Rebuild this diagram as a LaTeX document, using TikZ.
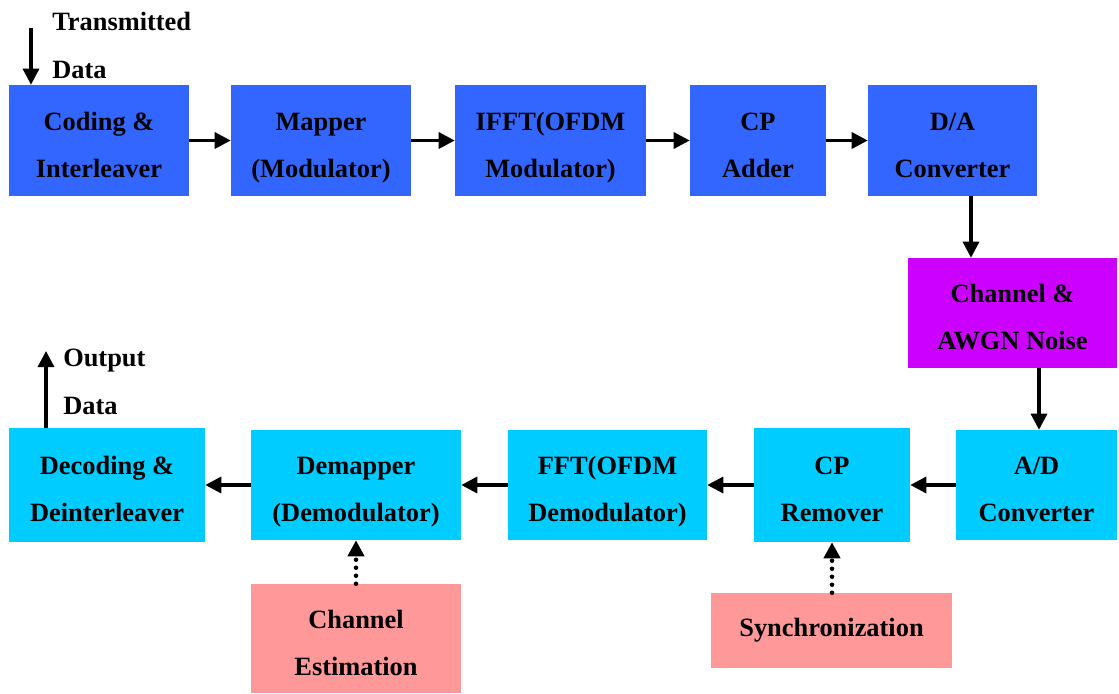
\documentclass[tikz,border=0pt]{standalone}
\usepackage{fontspec}
\setmainfont{Liberation Serif}
\usepackage{tikz}
\usetikzlibrary{arrows.meta,positioning}
\definecolor{txblue}{HTML}{3366FF}
\definecolor{chmag}{HTML}{CC00FF}
\definecolor{rxcyan}{HTML}{00CCFF}
\definecolor{aux}{HTML}{FF9999}
\begin{document}
\begin{tikzpicture}[x=0.75pt,y=-0.75pt,>={Triangle[length=12pt,width=12pt]},
  block/.style={inner sep=0pt,align=center,text height=55pt,text depth=0pt,font=\bfseries\fontsize{19.8}{35.25}\selectfont},
  lab/.style={inner sep=0pt,align=left,anchor=west,font=\bfseries\fontsize{19.8}{36}\selectfont},
  flow/.style={->,line width=2.4pt},
  aid/.style={->,line width=3.4pt,line cap=round,dash pattern=on 0pt off 6pt}]
  \useasboundingbox (0,0) rectangle (1119,693);
  % transmitter
  \node[block,fill=txblue,minimum width=135pt,minimum height=83.25pt] (cod) at (99,140.5) {Coding \&\\Interleaver};
  \node[block,fill=txblue,minimum width=135pt,minimum height=83.25pt] (map) at (321,140.5) {Mapper\\(Modulator)};
  \node[block,fill=txblue,minimum width=143.25pt,minimum height=83.25pt] (ifft) at (550.5,140.5) {IFFT(OFDM\\Modulator)};
  \node[block,fill=txblue,minimum width=102pt,minimum height=83.25pt] (cpa) at (758,140.5) {CP\\Adder};
  \node[block,fill=txblue,minimum width=126.75pt,minimum height=83.25pt] (da) at (952.5,140.5) {D/A\\Converter};
  % channel
  \node[block,fill=chmag,minimum width=156.75pt,minimum height=82.5pt] (chan) at (1012.5,313) {Channel \&\\AWGN Noise};
  % receiver
  \node[block,fill=rxcyan,minimum width=120.75pt,minimum height=82.5pt] (ad) at (1036.5,485) {A/D\\Converter};
  \node[block,fill=rxcyan,minimum width=117pt,minimum height=85.5pt] (cpr) at (832,485) {CP\\Remover};
  \node[block,fill=rxcyan,minimum width=149.25pt,minimum height=82.5pt] (fft) at (607.5,485) {FFT(OFDM\\Demodulator)};
  \node[block,fill=rxcyan,minimum width=157.5pt,minimum height=82.5pt] (dem) at (356,485) {Demapper\\(Demodulator)};
  \node[block,fill=rxcyan,minimum width=147pt,minimum height=85.5pt] (dec) at (107,485) {Decoding \&\\Deinterleaver};
  \node[block,fill=aux,minimum width=157.5pt,minimum height=81.75pt] (est) at (356,638.5) {Channel\\Estimation};
  \node[block,fill=aux,minimum width=180.75pt,minimum height=56.25pt,text height=13.5pt,text depth=4.3pt] (syn) at (831.5,630.5) {Synchronization};
  % input / output labels
  \node[lab] (txd) at (52,45) {Transmitted\\Data};
  \node[lab] (rxd) at (63,382) {Output\\Data};
  \coordinate (tin) at (31,28);
  \coordinate (rout) at (46,351);
  \coordinate (dx) at (971,0);
  \coordinate (cx) at (1039,0);
  % connectors
  \draw[flow] (tin) -- (tin |- cod.north);
  \draw[flow] (cod) -- (map);
  \draw[flow] (map) -- (ifft);
  \draw[flow] (ifft) -- (cpa);
  \draw[flow] (cpa) -- (da);
  \draw[flow] (da.south -| dx) -- (chan.north -| dx);
  \draw[flow] (chan.south -| cx) -- (ad.north -| cx);
  \draw[flow] (ad) -- (cpr);
  \draw[flow] (cpr) -- (fft);
  \draw[flow] (fft) -- (dem);
  \draw[flow] (dem) -- (dec);
  \draw[flow] (dec.north -| rout) -- (rout);
  \draw[aid] (est) -- (dem);
  \draw[aid] (syn.north -| cpr) -- (cpr);
\end{tikzpicture}
\end{document}
